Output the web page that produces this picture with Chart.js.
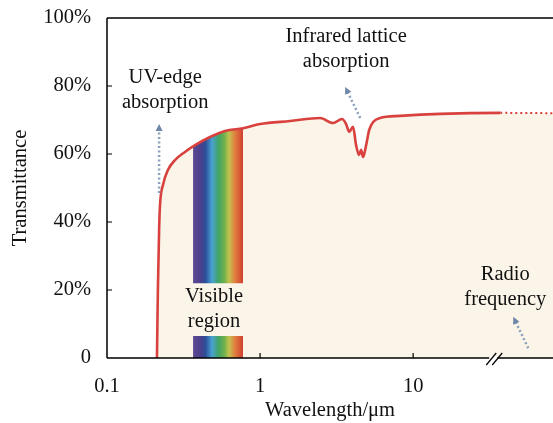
<!DOCTYPE html>
<html>
<head>
<meta charset="utf-8">
<script src="https://cdn.jsdelivr.net/npm/chart.js@4/dist/chart.umd.min.js"></script>
<style>
html,body{margin:0;padding:0;background:#fff;}
#wrap{width:553px;height:423px;}
</style>
</head>
<body>
<div id="wrap"><canvas id="chart"></canvas></div>
<script>
// transmittance curve (wavelength in um, %)
const wavelength = [0.212,0.215,0.219,0.222,0.232,0.25,0.278,0.323,0.376,0.471,0.59,0.774,1.0,1.57,2.47,3.0,3.43,3.65,3.82,4.05,4.24,4.43,4.57,4.71,4.93,5.16,5.48,6.08,8.22,15.0,37.1,82];
const transmittance = [0,20,37.6,45,50.9,55.3,58.2,60.6,62.6,65,66.8,67.6,68.8,69.7,70.6,69.1,70.3,68.8,66.5,68,62.6,59.7,61.2,59.1,62.6,67,69.4,70.6,71.2,71.8,72.1,72];
const dottedFrom = 37.1;

// visible band
const bandX = [0.365,0.376,0.471,0.59,0.774];
const bandTop = [62.2,62.6,65,66.8,67.6];
const bandCut = 22;
const bandLow = 6.5;

const xTicks = [0.1,1,10];
const xLabels = ['0.1','1','10'];
const yTicks = [0,20,40,60,80,100];
const yLabels = ['0','20%','40%','60%','80%','100%'];

// notes: text lines, anchor (x, y in data units)
const notes = [
  {lines:['UV-edge','absorption'], x:0.24, y:82.6},
  {lines:['Infrared lattice','absorption'], x:3.65, y:94.4},
  {lines:['Visible','region'], x:0.5, y:18.2},
  {lines:['Radio','frequency'], x:40, y:24.4}
];
const arrows = [
  {from:[0.219,48.5], to:[0.219,68.8]},
  {from:[4.51,70.6], to:[3.6,79.7]},
  {from:[56.5,2.9], to:[45.1,12.1]}
];
const breakAt = 34.4;

const pts = (xs, ys) => xs.map((x,i) => ({x:x, y:ys[i]}));

function rainbow(ctx){
  const chart = ctx.chart;
  if(!chart.chartArea) return 'transparent';
  const xs = chart.scales.x;
  const x0 = xs.getPixelForValue(bandX[0]);
  const x1 = xs.getPixelForValue(bandX[bandX.length-1]);
  const g = chart.ctx.createLinearGradient(x0,0,x1,0);
  g.addColorStop(0.00,'#5b4a92');
  g.addColorStop(0.15,'#4b3f8c');
  g.addColorStop(0.25,'#2b4f98');
  g.addColorStop(0.38,'#4aa2d2');
  g.addColorStop(0.50,'#3fa46a');
  g.addColorStop(0.62,'#6cb04c');
  g.addColorStop(0.72,'#c2c250');
  g.addColorStop(0.84,'#e07e3e');
  g.addColorStop(1.00,'#d03f30');
  return g;
}

const frame = {
  id:'frame',
  afterDraw(chart){
    const c = chart.ctx, a = chart.chartArea;
    const xs = chart.scales.x, ys = chart.scales.y;
    c.save();
    c.strokeStyle = '#000';
    c.lineWidth = 1.5;
    c.beginPath();
    c.moveTo(a.left,a.top); c.lineTo(a.right,a.top);
    c.moveTo(a.left,a.top); c.lineTo(a.left,a.bottom);
    c.moveTo(a.left,a.bottom); c.lineTo(a.right,a.bottom);
    c.stroke();
    c.lineWidth = 1.2;
    c.beginPath();
    yTicks.forEach(v => {
      if(v===0 || v===100) return;
      const y = ys.getPixelForValue(v);
      c.moveTo(a.left,y); c.lineTo(a.left+5,y);
    });
    xTicks.forEach(v => {
      if(v===0.1) return;
      const x = xs.getPixelForValue(v);
      c.moveTo(x,a.bottom); c.lineTo(x,a.bottom-5);
    });
    c.stroke();
    // axis break
    const bx = xs.getPixelForValue(breakAt);
    c.fillStyle = '#fff';
    c.fillRect(bx-6,a.bottom-2,8,4);
    c.lineWidth = 1.2;
    c.beginPath();
    c.moveTo(bx-9,a.bottom+7); c.lineTo(bx+1,a.bottom-5);
    c.moveTo(bx-3,a.bottom+7); c.lineTo(bx+7,a.bottom-5);
    c.stroke();

    // arrows
    arrows.forEach(ar => {
      const x0 = xs.getPixelForValue(ar.from[0]), y0 = ys.getPixelForValue(ar.from[1]);
      const x1 = xs.getPixelForValue(ar.to[0]), y1 = ys.getPixelForValue(ar.to[1]);
      const ang = Math.atan2(y1-y0,x1-x0);
      c.strokeStyle = '#8aa0bd';
      c.fillStyle = '#6f87a8';
      c.lineWidth = 2.5;
      c.setLineDash([2,2.5]);
      c.beginPath();
      c.moveTo(x0,y0);
      c.lineTo(x1-Math.cos(ang)*5,y1-Math.sin(ang)*5);
      c.stroke();
      c.setLineDash([]);
      c.beginPath();
      c.moveTo(x1,y1);
      c.lineTo(x1-Math.cos(ang)*7+Math.sin(ang)*3.5,y1-Math.sin(ang)*7-Math.cos(ang)*3.5);
      c.lineTo(x1-Math.cos(ang)*7-Math.sin(ang)*3.5,y1-Math.sin(ang)*7+Math.cos(ang)*3.5);
      c.closePath();
      c.fill();
    });

    // notes
    c.fillStyle = '#111';
    c.font = '20.5px "Liberation Serif", "Times New Roman", serif';
    c.textAlign = 'center';
    c.textBaseline = 'middle';
    notes.forEach(n => {
      const x = xs.getPixelForValue(n.x), y = ys.getPixelForValue(n.y);
      n.lines.forEach((t,i) => c.fillText(t,x,y+i*25));
    });
    c.restore();
  }
};

const serif = {family:'"Liberation Serif", "Times New Roman", serif', size:20.5};

new Chart(document.getElementById('chart'),{
  type:'line',
  data:{
    datasets:[
      {
        data:pts(wavelength,transmittance),
        borderColor:'#d8413e',
        borderWidth:2.6,
        pointRadius:0,
        cubicInterpolationMode:'monotone',
        fill:false,
        segment:{
          borderDash: s => s.p0.parsed.x >= dottedFrom ? [2,3] : undefined,
          borderWidth: s => s.p0.parsed.x >= dottedFrom ? 2 : undefined
        }
      },
      {
        data:pts(bandX,bandTop),
        borderWidth:0,
        pointRadius:0,
        cubicInterpolationMode:'monotone',
        backgroundColor:rainbow,
        fill:'+1'
      },
      {
        data:pts([bandX[0],bandX[bandX.length-1]],[bandCut,bandCut]),
        borderWidth:0,
        pointRadius:0,
        fill:false
      },
      {
        data:pts([bandX[0],bandX[bandX.length-1]],[bandLow,bandLow]),
        borderWidth:0,
        pointRadius:0,
        backgroundColor:rainbow,
        fill:'origin'
      },
      {
        data:pts(wavelength,transmittance),
        borderWidth:0,
        pointRadius:0,
        cubicInterpolationMode:'monotone',
        backgroundColor:'#faf5e8',
        fill:'origin'
      }
    ]
  },
  options:{
    responsive:true,
    maintainAspectRatio:false,
    animation:false,
    layout:{padding:{top:18,right:0,left:0,bottom:0}},
    plugins:{legend:{display:false},tooltip:{enabled:false}},
    scales:{
      x:{
        type:'logarithmic',
        min:0.1,
        max:82,
        afterBuildTicks: s => { s.ticks = xTicks.map(v => ({value:v})); },
        afterFit: s => { s.height = 65; s.paddingLeft = 0; s.paddingRight = 0; },
        grid:{display:false,drawTicks:false},
        border:{display:false},
        ticks:{
          color:'#111',
          font:serif,
          padding:16,
          autoSkip:false,
          maxRotation:0,
          callback:(v) => xLabels[xTicks.indexOf(v)]
        },
        title:{display:true,text:'Wavelength/μm',color:'#111',font:serif,padding:{top:0,bottom:0}}
      },
      y:{
        min:0,
        max:100,
        afterBuildTicks: s => { s.ticks = yTicks.map(v => ({value:v})); },
        afterFit: s => { s.width = 107; s.paddingTop = 0; s.paddingBottom = 0; },
        grid:{display:false,drawTicks:false},
        border:{display:false},
        ticks:{
          color:'#111',
          font:serif,
          padding:16,
          callback:(v) => yLabels[yTicks.indexOf(v)]
        },
        title:{display:true,text:'Transmittance',color:'#111',font:serif,padding:{top:8,bottom:0}}
      }
    }
  },
  plugins:[frame]
});
</script>
</body>
</html>
